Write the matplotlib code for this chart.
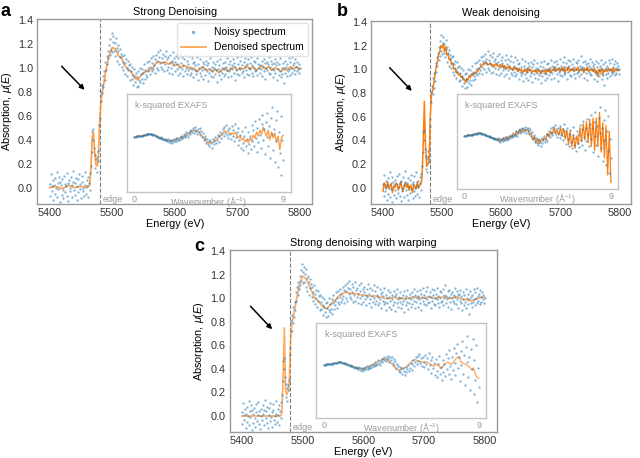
import numpy as np
import matplotlib.pyplot as plt
from matplotlib.ticker import FormatStrFormatter

plt.rcParams['font.family'] = ['Liberation Sans', 'DejaVu Sans']
plt.rcParams['mathtext.fontset'] = 'custom'
plt.rcParams['mathtext.rm'] = 'Liberation Sans'
plt.rcParams['mathtext.it'] = 'Liberation Sans:italic'

# measured spectrum, 1 eV grid
energy = np.arange(5400, 5801, 1)
noisy_mu = [
    0.03, -0.07, 0.11, 0.01, -0.03, 0.06, -0.10, 0.02, 0.08, -0.05,
    0.00, 0.13, -0.08, 0.04, -0.01, 0.09, -0.12, 0.05, 0.02, -0.06,
    0.07, -0.02, -0.09, 0.10, 0.03, -0.04, 0.01, 0.12, -0.07, 0.04,
    -0.11, 0.06, 0.00, -0.03, 0.09, 0.02, -0.08, 0.05, 0.14, -0.02,
    0.04, -0.06, 0.08, -0.10, 0.01, 0.07, -0.04, 0.11, -0.01, 0.03,
    -0.09, 0.05, 0.10, -0.03, 0.00, -0.07, 0.13, 0.02, -0.05, 0.06,
    0.01, -0.08, 0.09, 0.04, -0.02, 0.12, 0.18, 0.30, 0.47, 0.40,
    0.49, 0.33, 0.27, 0.16, 0.24, 0.13, 0.26, 0.31, 0.22, 0.52,
    0.58, 0.81, 0.72, 0.86, 0.79, 0.93, 0.84, 0.97, 0.90, 1.05,
    0.98, 1.10, 1.03, 1.14, 1.08, 1.19, 1.11, 1.24, 1.15, 1.29,
    1.13, 1.22, 1.27, 1.14, 1.21, 1.10, 1.25, 1.17, 1.06, 1.19,
    1.14, 1.03, 1.16, 1.09, 1.12, 1.01, 1.10, 1.05, 0.98, 1.11,
    1.04, 0.95, 1.07, 1.00, 0.93, 1.06, 0.98, 1.02, 0.90, 1.03,
    0.97, 0.91, 1.01, 0.94, 0.86, 0.99, 0.93, 0.88, 0.96, 0.84,
    0.92, 0.97, 0.85, 0.90, 1.00, 0.88, 0.95, 0.91, 0.99, 0.87,
    0.96, 1.03, 0.91, 0.98, 0.94, 1.05, 0.92, 1.00, 0.97, 1.06,
    0.95, 1.01, 1.08, 0.97, 1.04, 0.99, 1.10, 1.02, 0.96, 1.07,
    1.11, 1.00, 1.06, 1.13, 0.98, 1.09, 1.04, 1.15, 1.01, 1.08,
    0.99, 1.12, 1.05, 0.97, 1.10, 1.03, 1.14, 0.98, 1.07, 1.01,
    1.09, 0.96, 1.04, 1.11, 1.00, 1.06, 0.95, 1.13, 1.02, 1.08,
    0.97, 1.05, 1.10, 0.99, 1.03, 0.94, 1.08, 1.01, 1.12, 0.96,
    1.04, 0.99, 1.09, 0.93, 1.02, 1.07, 0.97, 1.11, 1.00, 0.95,
    1.06, 0.98, 1.03, 1.10, 0.94, 1.01, 0.96, 1.08, 0.99, 1.04,
    0.92, 1.05, 0.98, 1.02, 0.95, 1.09, 0.97, 0.90, 1.03, 1.00,
    0.96, 1.07, 0.93, 1.01, 0.98, 1.05, 0.91, 1.03, 0.99, 0.94,
    1.06, 0.97, 1.02, 0.89, 1.04, 0.96, 1.08, 0.99, 0.93, 1.01,
    0.97, 1.05, 0.92, 1.00, 0.95, 1.03, 0.98, 0.88, 1.06, 0.99,
    0.94, 1.02, 0.97, 1.07, 0.91, 1.00, 0.96, 1.04, 0.93, 0.99,
    1.05, 0.95, 1.01, 0.98, 1.08, 0.92, 1.03, 0.97, 1.00, 1.06,
    0.93, 1.02, 0.99, 1.07, 0.96, 1.04, 0.90, 1.01, 0.98, 1.09,
    0.95, 1.03, 1.00, 0.94, 1.06, 0.99, 1.10, 0.96, 1.02, 0.97,
    1.05, 0.92, 1.01, 1.08, 0.98, 1.03, 0.95, 1.07, 1.00, 0.94,
    1.04, 0.99, 1.09, 0.96, 1.02, 0.93, 1.06, 1.00, 0.97, 1.05,
    0.98, 1.08, 0.94, 1.03, 1.00, 1.11, 0.96, 1.02, 0.99, 1.06,
    0.93, 1.01, 1.07, 0.97, 1.04, 0.91, 1.00, 1.05, 0.98, 1.03,
    0.96, 1.09, 1.01, 0.95, 1.06, 0.99, 1.03, 0.92, 1.04, 0.98,
    1.07, 0.96, 1.02, 0.90, 1.05, 0.99, 0.94, 1.03, 0.97, 1.08,
    0.92, 1.00, 0.95, 1.04, 0.87, 0.99, 1.06, 0.96, 1.01, 0.93,
    1.03, 0.97, 1.08, 0.99, 0.94, 1.05, 1.00, 0.96, 1.09, 1.02,
    0.98, 1.04, 0.95, 1.07, 1.01, 0.97, 1.05, 0.99, 1.03, 0.96,
    1.00,
]

# denoised results
energy_smooth = [5400, 5410, 5420, 5430, 5440, 5450, 5460,
                 5464, 5466, 5468, 5470, 5472, 5474, 5476, 5478,
                 5480, 5482, 5485,
                 5490, 5495, 5500, 5505, 5510, 5515, 5520, 5525, 5530, 5535,
                 5540, 5545, 5550, 5555, 5560, 5565, 5570, 5575, 5580,
                 5585, 5590, 5595, 5600, 5605, 5610, 5615, 5620, 5625, 5630,
                 5635, 5640, 5645, 5650, 5655, 5660, 5665, 5670, 5675, 5680,
                 5685, 5690, 5695, 5700, 5705, 5710, 5715, 5720, 5725, 5730,
                 5735, 5740, 5745, 5750, 5755, 5760, 5765, 5770, 5775, 5780,
                 5785, 5790, 5795, 5800]
strong_mu = [0.00, 0.01, -0.01, 0.02, 0.00, 0.01, 0.00,
             0.02, 0.15, 0.42, 0.46, 0.30, 0.19, 0.18, 0.25,
             0.55, 0.72, 0.82,
             0.98, 1.10, 1.17, 1.16, 1.10, 1.08, 1.02, 0.99, 0.97, 0.92,
             0.90, 0.93, 0.96, 0.97, 0.98, 1.00, 1.04, 1.05, 1.04,
             1.05, 1.03, 1.05, 1.02, 1.03, 1.00, 1.02, 1.01, 0.99, 1.00,
             0.97, 0.99, 1.01, 0.98, 0.99, 0.97, 0.99, 0.96, 0.98, 1.00,
             0.97, 0.99, 1.01, 0.98, 1.00, 0.99, 1.02, 0.99, 1.01, 0.98,
             1.00, 1.02, 0.99, 1.01, 0.98, 1.00, 0.99, 0.97, 1.00, 0.98,
             1.01, 0.99, 1.01, 0.99]
warped_mu = [0.00, 0.00, 0.00, 0.00, 0.00, 0.00, 0.00,
             0.00, 0.03, 0.35, 0.75, 0.22, 0.18, 0.21, 0.28,
             0.60, 0.77, 0.85,
             0.99, 1.12, 1.19, 1.17, 1.12, 1.06, 1.00, 0.98, 0.95, 0.92,
             0.91, 0.94, 0.97, 0.99, 1.02, 1.04, 1.05, 1.05, 1.04,
             1.04, 1.04, 1.03, 1.03, 1.02, 1.02, 1.02, 1.02, 1.01, 1.01,
             1.00, 1.00, 1.00, 1.01, 1.00, 1.00, 1.00, 1.00, 1.00, 1.01,
             1.01, 1.01, 1.00, 1.00, 1.01, 1.01, 1.00, 1.00, 1.01, 1.01,
             1.01, 1.00, 1.00, 1.01, 1.01, 1.00, 0.99, 0.99, 0.98, 0.98,
             0.99, 1.00, 1.01, 1.01]
energy_weak = np.arange(5400, 5801, 2)
weak_mu = [
    -0.03, 0.04, 0.02, -0.01, 0.05, 0.00, 0.02, 0.03, -0.04, 0.01,
    0.00, 0.04, 0.03, -0.02, 0.01, 0.05, 0.00, -0.03, 0.02, 0.04,
    0.00, 0.03, -0.02, 0.02, 0.01, -0.04, 0.03, 0.01, -0.01, 0.05,
    0.00, 0.02, 0.03, 0.08, 0.35, 0.73, 0.35, 0.18, 0.20, 0.22,
    0.60, 0.78, 0.82, 0.88, 0.95, 1.02, 1.06, 1.12, 1.15, 1.20,
    1.18, 1.21, 1.15, 1.19, 1.12, 1.13, 1.08, 1.09, 1.04, 1.05,
    1.00, 1.01, 0.97, 0.98, 0.95, 0.96, 0.93, 0.94, 0.91, 0.91,
    0.89, 0.92, 0.91, 0.94, 0.93, 0.96, 0.95, 0.97, 0.96, 0.98,
    0.98, 1.00, 1.01, 1.03, 1.03, 1.05, 1.04, 1.06, 1.05, 1.04,
    1.04, 1.05, 1.03, 1.04, 1.02, 1.04, 1.05, 1.03, 1.02, 1.04,
    1.02, 1.04, 1.01, 1.03, 1.00, 1.02, 1.01, 1.03, 1.00, 1.01,
    0.99, 1.02, 1.00, 1.01, 0.98, 1.01, 0.99, 1.00, 0.97, 0.99,
    0.98, 1.00, 0.97, 1.01, 0.99, 1.00, 0.97, 0.99, 0.98, 0.99,
    0.97, 1.00, 0.98, 0.99, 0.96, 0.99, 0.98, 0.99, 0.96, 1.00,
    0.98, 1.01, 0.97, 0.99, 0.99, 1.02, 0.98, 1.00, 0.99, 1.01,
    0.98, 1.01, 0.99, 1.02, 0.97, 1.00, 0.99, 1.02, 0.98, 1.00,
    0.99, 1.01, 0.98, 1.00, 0.99, 1.02, 0.98, 1.00, 0.99, 1.01,
    0.97, 1.00, 0.99, 1.02, 0.98, 1.00, 0.99, 1.00, 0.98, 1.01,
    0.97, 0.99, 0.94, 1.00, 0.98, 1.01, 0.95, 0.99, 0.98, 1.00,
    0.98, 1.01, 0.99, 1.00, 0.97, 1.01, 0.98, 1.00, 0.99, 1.00,
    0.99,
]

# k-squared EXAFS (insets), arbitrary units
wavenumber_noisy = np.linspace(0, 9, 181)
noisy_chi = [
    0.61, 0.612, 0.615, 0.618, 0.62, 0.62, 0.622, 0.621, 0.62, 0.623,
    0.625, 0.628, 0.63, 0.632, 0.635, 0.637, 0.64, 0.641, 0.64, 0.642,
    0.64, 0.637, 0.635, 0.634, 0.63, 0.626, 0.62, 0.618, 0.612, 0.61,
    0.605, 0.60, 0.607, 0.595, 0.59, 0.593, 0.582, 0.588, 0.575, 0.58,
    0.572, 0.585, 0.56, 0.575, 0.552, 0.57, 0.58, 0.555, 0.59, 0.565,
    0.595, 0.57, 0.60, 0.58, 0.575, 0.61, 0.59, 0.62, 0.60, 0.615,
    0.64, 0.61, 0.625, 0.66, 0.63, 0.615, 0.65, 0.67, 0.64, 0.685,
    0.66, 0.70, 0.65, 0.68, 0.71, 0.67, 0.64, 0.69, 0.66, 0.70,
    0.63, 0.67, 0.61, 0.65, 0.58, 0.62, 0.60, 0.55, 0.59, 0.54,
    0.57, 0.52, 0.58, 0.55, 0.50, 0.59, 0.54, 0.57, 0.61, 0.55,
    0.58, 0.63, 0.56, 0.62, 0.66, 0.60, 0.64, 0.69, 0.62, 0.71,
    0.65, 0.73, 0.63, 0.68, 0.60, 0.70, 0.64, 0.59, 0.72, 0.62,
    0.68, 0.57, 0.74, 0.61, 0.66, 0.53, 0.70, 0.58, 0.63, 0.50,
    0.67, 0.55, 0.48, 0.62, 0.71, 0.52, 0.59, 0.45, 0.66, 0.54,
    0.62, 0.49, 0.73, 0.57, 0.68, 0.52, 0.77, 0.60, 0.46, 0.70,
    0.56, 0.79, 0.63, 0.50, 0.74, 0.83, 0.58, 0.69, 0.44, 0.76,
    0.61, 0.86, 0.52, 0.72, 0.40, 0.80, 0.64, 0.92, 0.48, 0.69,
    0.35, 0.78, 0.57, 0.88, 0.30, 0.66, 0.45, 0.82, 0.22, 0.58,
    0.38,
]
wavenumber = np.linspace(0, 9, 91)
strong_chi = [
    0.61, 0.61, 0.62, 0.62, 0.62, 0.62, 0.63, 0.63, 0.64, 0.64,
    0.64, 0.63, 0.63, 0.62, 0.61, 0.61, 0.60, 0.59, 0.59, 0.58,
    0.58, 0.57, 0.57, 0.57, 0.58, 0.58, 0.59, 0.59, 0.60, 0.61,
    0.62, 0.63, 0.64, 0.65, 0.66, 0.67, 0.68, 0.67, 0.67, 0.66,
    0.64, 0.62, 0.60, 0.58, 0.56, 0.55, 0.56, 0.55, 0.56, 0.58,
    0.59, 0.61, 0.62, 0.64, 0.66, 0.67, 0.66, 0.65, 0.64, 0.65,
    0.64, 0.66, 0.63, 0.60, 0.62, 0.58, 0.60, 0.56, 0.58, 0.55,
    0.60, 0.57, 0.63, 0.60, 0.66, 0.62, 0.68, 0.64, 0.71, 0.66,
    0.62, 0.68, 0.58, 0.66, 0.60, 0.65, 0.56, 0.62, 0.48, 0.60,
    0.63,
]
weak_chi = [
    0.61, 0.61, 0.62, 0.62, 0.62, 0.62, 0.63, 0.63, 0.64, 0.64,
    0.64, 0.63, 0.63, 0.62, 0.61, 0.61, 0.60, 0.59, 0.59, 0.58,
    0.58, 0.56, 0.58, 0.56, 0.59, 0.57, 0.60, 0.58, 0.61, 0.60,
    0.63, 0.61, 0.66, 0.63, 0.68, 0.65, 0.69, 0.66, 0.67, 0.68,
    0.63, 0.64, 0.57, 0.60, 0.54, 0.58, 0.53, 0.57, 0.56, 0.59,
    0.57, 0.64, 0.60, 0.66, 0.63, 0.70, 0.64, 0.67, 0.62, 0.70,
    0.61, 0.69, 0.58, 0.67, 0.52, 0.66, 0.50, 0.62, 0.48, 0.61,
    0.52, 0.70, 0.55, 0.74, 0.57, 0.76, 0.54, 0.79, 0.50, 0.80,
    0.46, 0.80, 0.50, 0.86, 0.44, 0.75, 0.38, 0.72, 0.20, 0.66,
    0.12,
]
warped_chi = [
    0.61, 0.61, 0.62, 0.62, 0.62, 0.62, 0.63, 0.63, 0.64, 0.64,
    0.64, 0.63, 0.63, 0.62, 0.61, 0.61, 0.60, 0.59, 0.59, 0.58,
    0.58, 0.57, 0.57, 0.57, 0.58, 0.58, 0.59, 0.60, 0.61, 0.62,
    0.63, 0.64, 0.65, 0.66, 0.67, 0.67, 0.67, 0.66, 0.65, 0.63,
    0.61, 0.59, 0.57, 0.56, 0.56, 0.57, 0.58, 0.58, 0.59, 0.61,
    0.63, 0.65, 0.66, 0.67, 0.66, 0.65, 0.65, 0.64, 0.64, 0.64,
    0.64, 0.63, 0.62, 0.61, 0.60, 0.61, 0.62, 0.60, 0.57, 0.59,
    0.62, 0.63, 0.64, 0.63, 0.62, 0.63, 0.66, 0.68, 0.70, 0.67,
    0.64, 0.63, 0.62, 0.61, 0.60, 0.58, 0.56, 0.58, 0.52, 0.48,
    0.47,
]

BLUE = '#1f77b4'
ORANGE = '#ff7f0e'
GRAY = '#999999'


def draw_panel(fig, rect, inset_rect, e_line, mu_line, chi_line, title,
               letter, letter_xy, line_alpha, line_width, arrow, legend=False):
    ax = fig.add_axes(rect)
    ax.plot(e_line, mu_line, color=ORANGE, lw=line_width, alpha=line_alpha,
            label='Denoised spectrum', zorder=2)
    ax.scatter(energy, noisy_mu, s=2.8, color=BLUE, alpha=0.55, lw=0,
               label='Noisy spectrum', zorder=3)
    ax.axvline(5480, color='#808080', ls='--', lw=0.8, zorder=1)
    ax.text(5484, -0.095, 'edge', color=GRAY, fontsize=6.5, va='center')
    ax.annotate('', xy=arrow[1], xytext=arrow[0],
                arrowprops=dict(arrowstyle='-|>', color='black', lw=1.1,
                                mutation_scale=7))
    ax.set_xlim(5380, 5820)
    ax.set_ylim(-0.135, 1.41)
    ax.set_xticks([5400, 5500, 5600, 5700, 5800])
    ax.set_yticks([0.0, 0.2, 0.4, 0.6, 0.8, 1.0, 1.2, 1.4])
    ax.yaxis.set_major_formatter(FormatStrFormatter('%.1f'))
    ax.tick_params(length=0, labelsize=7.8, colors='#333333', pad=3)
    for s in ax.spines.values():
        s.set_color('#9a9a9a')
        s.set_linewidth(1.0)
    ax.set_title(title, fontsize=7.8, pad=3)
    ax.set_xlabel('Energy (eV)', fontsize=7.8, labelpad=1)
    ax.set_ylabel(r'Absorption, $\mu(E)$', fontsize=7.8, labelpad=3)
    if legend:
        leg = ax.legend(handles=ax.get_legend_handles_labels()[0][::-1],
                        loc='upper right', fontsize=7.5, markerscale=1.5,
                        handlelength=2.4, frameon=True, borderaxespad=0.4)
        leg.get_frame().set_edgecolor('#dddddd')
    fig.text(letter_xy[0], letter_xy[1], letter, fontsize=13,
             fontweight='bold', va='center', ha='center')

    ins = fig.add_axes(inset_rect)
    ins.plot(wavenumber, chi_line, color=ORANGE, lw=line_width - 0.2,
             alpha=line_alpha, zorder=2)
    ins.scatter(wavenumber_noisy, noisy_chi, s=2.8, color=BLUE, alpha=0.55,
                lw=0, zorder=3)
    ins.set_xlim(-0.45, 9.45)
    ins.set_ylim(0.05, 1.05)
    ins.set_xticks([0, 9])
    ins.set_yticks([])
    ins.tick_params(length=0, labelsize=6.5, labelcolor=GRAY, pad=2)
    for s in ins.spines.values():
        s.set_color('#c4c4c4')
        s.set_linewidth(1.0)
    ins.annotate(r'Wavenumber ($\mathrm{\AA}^{-1}$)', xy=(0.5, 0),
                 xycoords='axes fraction', xytext=(0, -2),
                 textcoords='offset points', ha='center', va='top',
                 fontsize=6.5, color=GRAY)
    ins.text(0.05, 0.93, 'k-squared EXAFS', transform=ins.transAxes,
             fontsize=6.5, color=GRAY, va='top')


fig = plt.figure(figsize=(6.4, 4.58), dpi=100)

draw_panel(fig, [0.058, 0.555, 0.430, 0.404], [0.198, 0.581, 0.256, 0.214],
           energy_smooth, strong_mu, strong_chi, 'Strong Denoising',
           'a', (0.008, 0.975), 0.75, 1.2, ((5416, 1.03), (5459, 0.80)),
           legend=True)
draw_panel(fig, [0.580, 0.555, 0.406, 0.400], [0.714, 0.587, 0.252, 0.207],
           energy_weak, weak_mu, weak_chi, 'Weak denoising',
           'b', (0.535, 0.975), 1.0, 1.1, ((5408, 1.03), (5452, 0.80)))
draw_panel(fig, [0.359, 0.057, 0.417, 0.397], [0.494, 0.087, 0.266, 0.207],
           energy_smooth, warped_mu, warped_chi, 'Strong denoising with warping',
           'c', (0.312, 0.461), 0.65, 1.2, ((5411, 0.95), (5453, 0.72)))

fig.savefig('out.png', dpi=100)
